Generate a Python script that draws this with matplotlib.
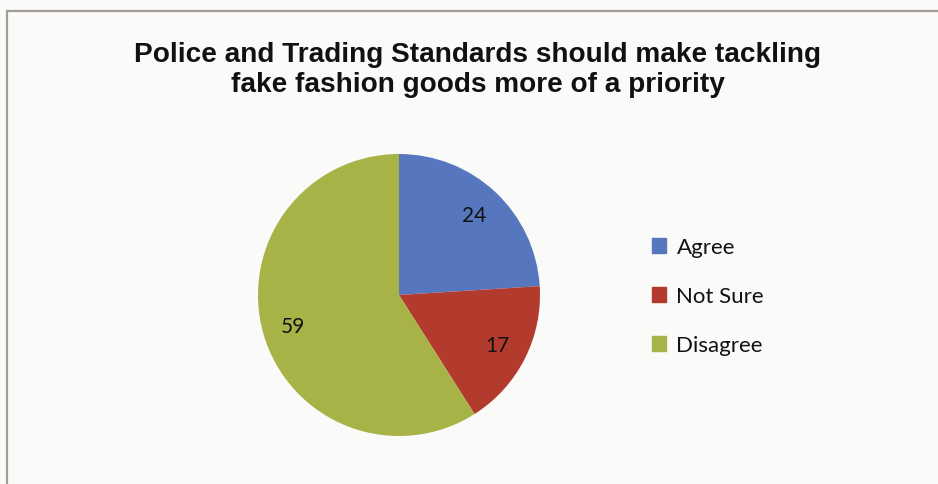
import matplotlib
matplotlib.use("Agg")
import matplotlib.pyplot as plt
import matplotlib.patches as mpatches

# Survey responses
categories = ["Agree", "Not Sure", "Disagree"]
values = [24, 17, 59]
title = ("Police and Trading Standards should make tackling\n"
         "fake fashion goods more of a priority")

colours = ["#5677BE", "#B23B2E", "#A7B347"]
W, H = 938, 485

fig = plt.figure(figsize=(W / 100, H / 100), dpi=100, facecolor="#FAFAF8")

# chart frame (runs off the right and bottom edges)
frame = mpatches.Rectangle((7 / W, -0.1), 1.2, 1 - 12 / H + 0.1,
                           transform=fig.transFigure, fill=False,
                           edgecolor="#A39C90", linewidth=1.6)
fig.patches.append(frame)

fig.text(478 / W, 1 - 70 / H, title, ha="center", va="center",
         family="Liberation Sans", fontweight="bold", fontsize=20.2,
         linespacing=1.2, color="#111111")

cx, cy, r = 399, 296, 141
ax = fig.add_axes([(cx - r) / W, (H - cy - r) / H, 2 * r / W, 2 * r / H])
wedges, _, autotexts = ax.pie(
    values, colors=colours, startangle=90, counterclock=False,
    autopct=lambda p: f"{p * sum(values) / 100:.0f}", pctdistance=0.78,
    wedgeprops=dict(linewidth=0),
    textprops=dict(family="Lato", fontsize=15, color="#111111"))
ax.set_xlim(-1, 1)
ax.set_ylim(-1, 1)
ax.set_aspect("equal")
ax.axis("off")

handles = [mpatches.Patch(color=c, label=l) for c, l in zip(colours, categories)]
fig.legend(handles=handles, loc="center left",
           bbox_to_anchor=(632 / W, 1 - 297 / H), frameon=False,
           prop=dict(family="Lato", size=16), handlelength=0.65,
           handleheight=0.65, handletextpad=0.45, labelspacing=1.3,
           labelcolor="#111111")

fig.savefig("out.png", dpi=100, facecolor=fig.get_facecolor())
